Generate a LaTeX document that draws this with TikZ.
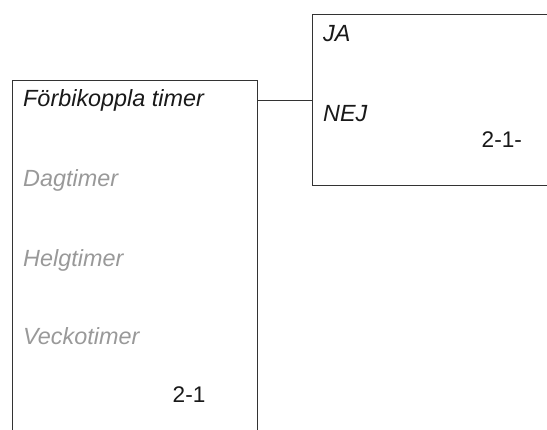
\documentclass[tikz,border=0pt]{standalone}
\usepackage{fontspec}
\setmainfont{Liberation Sans}
\begin{document}
\begin{tikzpicture}[x=1pt,y=1pt,
  frame/.style={draw=black!80,line width=1pt},
  label/.style={anchor=base west,inner sep=0pt,font=\fontsize{23.4}{27}\selectfont\itshape,text=black!90},
  dim/.style={label,text=black!40},
  code/.style={anchor=base west,inner sep=0pt,font=\fontsize{22.6}{27}\selectfont,text=black!90}]
\useasboundingbox (0,0) rectangle (547,430);
% left box (open at bottom)
\coordinate (lbl) at (12.7,0);
\coordinate (ltl) at (12.7,349);
\coordinate (ltr) at (257,349);
\coordinate (lbr) at (257,0);
\draw[frame] (lbl) -- (ltl) -- (ltr) -- (lbr);
% right box (open at right)
\coordinate (rtr) at (548,415);
\coordinate (rtl) at (312.7,415);
\coordinate (rbl) at (312.7,244);
\coordinate (rbr) at (548,244);
\draw[frame] (rtr) -- (rtl) -- (rbl) -- (rbr);
% connector
\coordinate (cl) at (257,329.3);
\coordinate (cr) at (312.7,329.3);
\draw[frame] (cl) -- (cr);
% texts
\node[label] (f) at (23,323) {Förbikoppla timer};
\node[dim] (d) at (23,243) {Dagtimer};
\node[dim] (h) at (23,163.5) {Helgtimer};
\node[dim] (v) at (23,85) {Veckotimer};
\node[code] (c1) at (172.5,27.5) {2-1};
\node[label] (ja) at (323,388) {JA};
\node[label] (nej) at (323,308) {NEJ};
\node[code] (c2) at (481.5,282) {2-1-};
\end{tikzpicture}
\end{document}
